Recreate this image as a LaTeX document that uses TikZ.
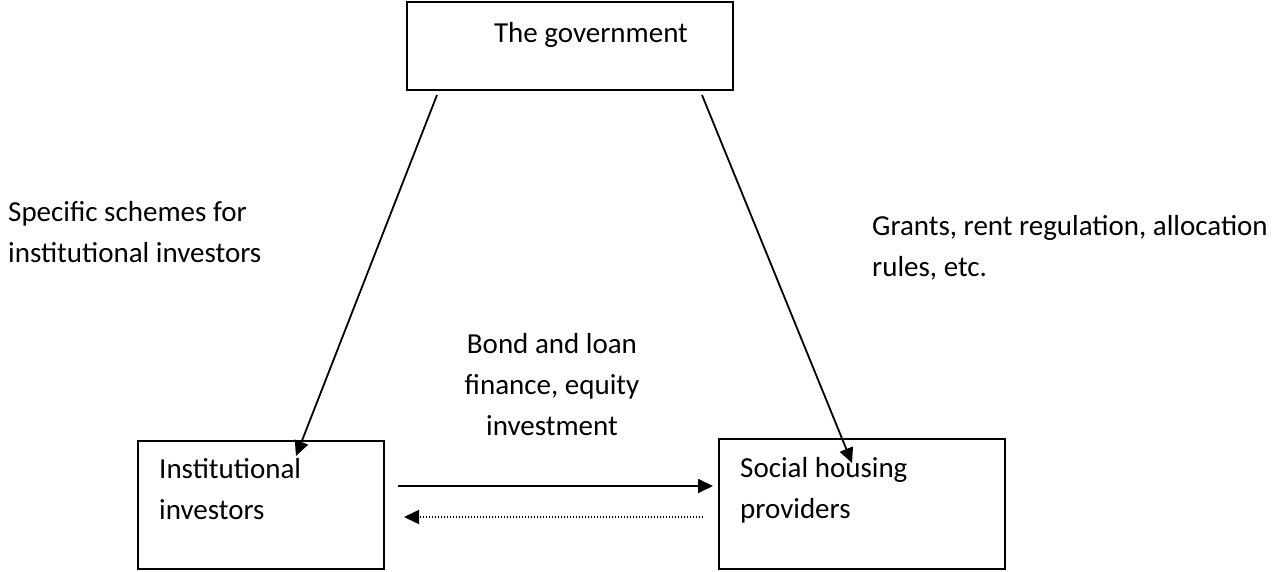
\documentclass[tikz,border=0pt]{standalone}
\usepackage{fontspec}
\setmainfont{Carlito}
\usetikzlibrary{arrows.meta}
\begin{document}
\begin{tikzpicture}[x=1pt,y=-1pt,
  box/.style={draw, line width=2.2pt, rectangle, inner sep=0pt},
  lbl/.style={inner sep=0pt, font=\fontsize{29}{41}\selectfont, align=left, anchor=base west},
  clbl/.style={inner sep=0pt, font=\fontsize{29}{41}\selectfont, align=center, anchor=base},
  arr/.style={line width=1.8pt, -{Triangle[length=15pt,width=14pt]}},
  dotarr/.style={line width=1.5pt, dash pattern=on 1.5pt off 1.5pt, -{Triangle[length=15pt,width=14pt]}}]
\useasboundingbox (0,0) rectangle (1275,571);
% boxes
\node[box, minimum width=326pt, minimum height=88pt] (gov) at (570,46) {};
\node[box, minimum width=246pt, minimum height=128pt] (inv) at (261,505) {};
\node[box, minimum width=286pt, minimum height=130pt] (shp) at (862,504) {};
% texts (anchor = baseline of last line)
\node[clbl] (govt) at (591,42) {The government};
\node[lbl] (invt) at (159,519) {Institutional\\investors};
\node[lbl] (shpt) at (740,518) {Social housing\\providers};
\node[lbl] (schemes) at (8,262) {Specific schemes for\\institutional investors};
\node[lbl] (grants) at (872,276) {Grants, rent regulation, allocation\\rules, etc.};
\node[clbl] (bond) at (552,435) {Bond and loan\\finance, equity\\investment};
% connector ends
\coordinate (g1) at (437,95);
\coordinate (i1) at (296,456);
\coordinate (g2) at (702,95);
\coordinate (s1) at (852,463);
\coordinate (i2) at (398,486);
\coordinate (s2) at (713,486);
\coordinate (s3) at (703,517);
\coordinate (i3) at (404,517);
\draw[arr] (g1) -- (i1);
\draw[arr] (g2) -- (s1);
\draw[arr] (i2) -- (s2);
\draw[dotarr] (s3) -- (i3);
\end{tikzpicture}
\end{document}
